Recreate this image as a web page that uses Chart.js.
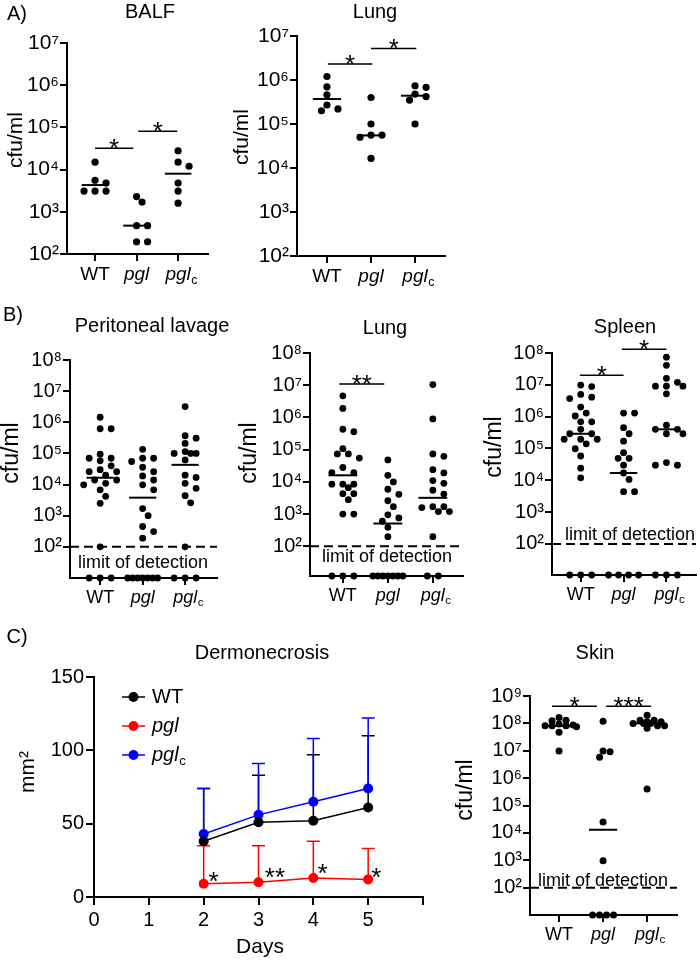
<!DOCTYPE html>
<html>
<head>
<meta charset="utf-8">
<script src="https://cdn.jsdelivr.net/npm/chart.js@4.4.1/dist/chart.umd.min.js"></script>
<style>
  body { margin: 0; background: #fff; }
  #fig { position: relative; width: 700px; height: 960px; }
  canvas { position: absolute; }
</style>
</head>
<body>
<div id="fig"></div>
<script>
const FONT = '"Liberation Sans", Arial, Helvetica, sans-serif';
const groupLabels = ['WT', 'pgl', 'pgl'];
const groupSub = ['', '', 'c'];

// A) BALF
const balfWT = [1.5e4, 5.6e3, 4.8e3, 3.1e3, 3.1e3, 3.1e3];
const balfPgl = [2.3e3, 1.7e3, 470, 470, 195, 195];
const balfPglc = [2.8e4, 1.5e4, 1.2e4, 4.8e3, 3.1e3, 1.6e3];
const balfMedian = [4.3e3, 470, 8e3];
const balfSig = [[0, 0.92, 3.2e4, '*'], [1.04, 1.98, 8.1e4, '*']];

// A) Lung
const lungAWT = [1.2e6, 7e5, 4.6e5, 2.7e5, 2.2e5, 2.0e5];
const lungAPgl = [4e5, 1e5, 5.6e4, 5.6e4, 5e4, 1.65e4];
const lungAPglc = [7.4e5, 6.8e5, 4.8e5, 4.2e5, 3.5e5, 1e5];
const lungAMedian = [3.7e5, 5.5e4, 4.4e5];
const lungASig = [[0.02, 1.03, 2.3e6, '*'], [1.0, 2.03, 5.2e6, '*']];

// B) Peritoneal lavage
const peritWT = [1.45e6, 6.2e5, 6.2e5, 9.4e4, 7e4, 7e4, 5.8e4, 4e4, 3e4, 2.6e4, 2.6e4, 2e4, 1.4e4, 1.4e4, 1.1e4, 9.8e3, 6.8e3, 4.2e3, 2.5e3, 100];
const peritPgl = [1.35e5, 7e4, 7e4, 5.5e4, 3.6e4, 2.6e4, 1.9e4, 1.4e4, 9.8e3, 6.8e3, 1.7e3, 1e3, 450, 310, 190];
const peritPglc = [3.2e6, 3.7e5, 3.1e5, 2.1e5, 1.15e5, 1e5, 1e5, 1e5, 6.2e4, 2e4, 1.7e4, 1.1e4, 7.6e3, 4.4e3, 2.6e3, 100];
const peritND = [3, 7, 3];
const peritMedian = [1.66e4, 3.8e3, 4.3e4];

// B) Lung
const lungBWT = [4.7e6, 1.9e6, 4.3e5, 3.6e5, 1.07e5, 7.4e4, 7.4e4, 5.5e4, 2.8e4, 1.95e4, 1.95e4, 8.5e3, 8.5e3, 8.5e3, 6.6e3, 4.3e3, 4.3e3, 2.8e3, 1e3, 1e3];
const lungBPgl = [4.8e4, 1.6e4, 1e4, 5.9e3, 4.1e3, 2.6e3, 1.7e3, 950, 760, 600, 390, 200];
const lungBPglc = [1.05e7, 9e5, 7.4e4, 6.2e4, 2.4e4, 1.9e4, 1.1e4, 9e3, 5.5e3, 4.2e3, 1.7e3, 1.6e3, 1.7e3, 1.2e3, 1.2e3, 200];
const lungBND = [3, 7, 2];
const lungBMedian = [1.6e4, 510, 3.2e3];
const lungBSig = [[-0.08, 0.92, 1.1e7, '**']];

// B) Spleen
const spleenWT = [9.8e6, 8.8e6, 5e6, 4.1e6, 3.7e6, 2e6, 1.3e6, 1.05e6, 6.9e5, 6.9e5, 4e5, 2.9e5, 2.9e5, 1.95e5, 1.95e5, 1.95e5, 1.4e5, 9.8e4, 5.8e4, 2.4e4, 1.2e4];
const spleenPgl = [1.3e6, 1.3e6, 4.5e5, 2.9e5, 1.7e5, 7.4e4, 4.9e4, 4.9e4, 3e4, 1.7e4, 1.07e4, 4.4e3, 4.4e3];
const spleenPglc = [7.4e7, 4.1e7, 1.6e7, 1.2e7, 9.1e6, 9.1e6, 9.1e6, 5.2e6, 5.4e5, 4e5, 4e5, 2.9e5, 2.9e5, 3.6e4, 3e4, 3e4];
const spleenND = [3, 4, 3];
const spleenMedian = [2.9e5, 1.7e4, 4e5];
const spleenSig = [[-0.02, 1.0, 2e7, '*'], [0.96, 2.0, 1.3e8, '*']];

// C) Skin
const skinWT = [1.65e8, 1.3e8, 1.25e8, 9.5e7, 8.7e7, 8.2e7, 8.2e7, 8.2e7, 7.5e7, 4.7e7, 9.8e6];
const skinPgl = [1.2e8, 9.8e6, 9.1e6, 5.8e6, 2.5e4, 950];
const skinPglc = [2e8, 1.3e8, 1.3e8, 1.15e8, 1.15e8, 1e8, 1e8, 1e8, 8.2e7, 8.2e7, 6.6e7, 4e5];
const skinND = [0, 4, 0];
const skinMedian = [8e7, 1.3e4, 1e8];
const skinSig = [[-0.16, 0.86, 4.2e8, '*'], [1.07, 2.09, 4.2e8, '***']];

// C) Dermonecrosis
const days = [2, 3, 4, 5];
const wtMean = [38, 51, 52, 61];
const wtSD = [36, 32, 45, 49];
const pglMean = [9, 10, 13, 12];
const pglSD = [26, 25, 25, 21];
const pglcMean = [43, 56, 65, 74];
const pglcSD = [31, 35, 43, 48];
const starDays = [2.18, 3.3, 4.17, 5.15];
const starLevels = [14, 17, 20, 17];
const starLabels = ['*', '**', '*', '*'];

const SUP = '⁰¹²³⁴⁵⁶⁷⁸⁹';
const YW = 60, XH = 35;
const fig = document.getElementById('fig');

Chart.defaults.font.family = FONT;
Chart.defaults.color = '#000';
Chart.defaults.animation = false;

function addCanvas(box) {
  const c = document.createElement('canvas');
  c.width = box[2]; c.height = box[3];
  c.style.left = box[0] + 'px'; c.style.top = box[1] + 'px';
  c.style.width = box[2] + 'px'; c.style.height = box[3] + 'px';
  fig.appendChild(c);
  return c;
}

function text(ctx, s, x, y, size, o = {}) {
  ctx.save();
  ctx.font = (o.italic ? 'italic ' : '') + size + 'px ' + FONT;
  ctx.fillStyle = '#000';
  ctx.textAlign = o.align || 'center';
  ctx.textBaseline = o.base || 'middle';
  ctx.translate(x, y);
  if (o.rot) ctx.rotate(-Math.PI / 2);
  ctx.fillText(s, 0, 0);
  ctx.restore();
}

function star(ctx, s, x, y) {
  // y = line the asterisks sit on
  text(ctx, s, x, y + 9, 26, {base: 'alphabetic'});
}

const extras = {
  id: 'extras',
  beforeDatasetsDraw(chart) {
    const p = chart.canvas.panel;
    if (!p) return;
    const ctx = chart.ctx, xs = chart.scales.x, ys = chart.scales.y, a = chart.chartArea;
    if (p.lod) {
      const y = ys.getPixelForValue(100);
      ctx.save();
      ctx.strokeStyle = '#000'; ctx.lineWidth = 2; ctx.setLineDash([9, 5]);
      ctx.beginPath(); ctx.moveTo(a.left, y); ctx.lineTo(a.right, y); ctx.stroke();
      ctx.restore();
    }
    if (p.errors) {
      chart.data.datasets.forEach(ds => {
        ctx.save();
        ctx.strokeStyle = ds.borderColor; ctx.lineWidth = 1.5;
        ds.data.forEach((pt, i) => {
          const x = xs.getPixelForValue(pt.x);
          const y1 = ys.getPixelForValue(pt.y), y2 = ys.getPixelForValue(pt.y + ds.sd[i]);
          ctx.beginPath();
          ctx.moveTo(x, y1); ctx.lineTo(x, y2);
          ctx.moveTo(x - 6.5, y2); ctx.lineTo(x + 6.5, y2);
          ctx.stroke();
        });
        ctx.restore();
      });
    }
  },
  afterDatasetsDraw(chart) {
    const p = chart.canvas.panel;
    if (!p) return;
    const ctx = chart.ctx, xs = chart.scales.x, ys = chart.scales.y;
    ctx.save();
    ctx.strokeStyle = '#000';
    if (p.medians) {
      ctx.lineWidth = 2;
      p.medians.forEach((m, g) => {
        const y = ys.getPixelForValue(m);
        ctx.beginPath();
        ctx.moveTo(xs.getPixelForValue(g - 0.32), y);
        ctx.lineTo(xs.getPixelForValue(g + 0.32), y);
        ctx.stroke();
      });
    }
    if (p.sig) {
      ctx.lineWidth = 1.5;
      p.sig.forEach(([x1, x2, v, lab]) => {
        const y = ys.getPixelForValue(v);
        const px1 = xs.getPixelForValue(x1), px2 = xs.getPixelForValue(x2);
        ctx.beginPath(); ctx.moveTo(px1, y); ctx.lineTo(px2, y); ctx.stroke();
        star(ctx, lab, (px1 + px2) / 2, y);
      });
    }
    if (p.stars) {
      p.stars.days.forEach((d, i) => {
        star(ctx, p.stars.labels[i], xs.getPixelForValue(d), ys.getPixelForValue(p.stars.levels[i]) + 5);
      });
    }
    ctx.restore();
  },
  afterDraw(chart) {
    const p = chart.canvas.panel;
    if (!p) return;
    const ctx = chart.ctx, xs = chart.scales.x, a = chart.chartArea;
    const ox = p.canvas[0], oy = p.canvas[1];
    p.texts.forEach(t => text(ctx, t[0], t[1] - ox, t[2] - oy, t[3], t[4] || {}));
    if (p.groups) {
      groupSub.forEach((s, i) => {
        if (!s) return;
        ctx.save();
        ctx.font = 'italic ' + p.fs + 'px ' + FONT;
        const w = ctx.measureText(groupLabels[i]).width;
        ctx.restore();
        const cy = xs.top + 7 + 2 + p.fs * 0.6;
        text(ctx, s, xs.getPixelForValue(i) + w / 2 + 0.5, cy + p.fs * 0.3, p.fs * 0.65, {align: 'left'});
      });
    }
    if (p.legend) {
      p.legend.forEach((e, i) => {
        const y = a.top + 20 + i * 29;
        const x0 = a.left + 28;
        ctx.save();
        ctx.strokeStyle = e.color; ctx.fillStyle = e.color; ctx.lineWidth = 1.5;
        ctx.beginPath(); ctx.moveTo(x0, y); ctx.lineTo(x0 + 23, y); ctx.stroke();
        ctx.beginPath(); ctx.arc(x0 + 11.5, y, 5, 0, Math.PI * 2); ctx.fill();
        ctx.restore();
        text(ctx, e.label, x0 + 30, y, 20, {align: 'left', italic: e.italic});
        if (e.sub) {
          ctx.save(); ctx.font = 'italic 20px ' + FONT;
          const w = ctx.measureText(e.label).width; ctx.restore();
          text(ctx, e.sub, x0 + 30 + w + 0.5, y + 6, 13, {align: 'left'});
        }
      });
    }
  }
};
Chart.register(extras);

function pad(p) {
  const [cx, cy, cw, ch] = p.canvas;
  const {l, t, r, b} = p.area;
  return {left: l - cx - YW, top: t - cy, right: cx + cw - r, bottom: cy + ch - b - XH};
}

function axisStyle(len) {
  return {
    grid: {drawOnChartArea: false, drawTicks: true, tickLength: len, color: '#000', lineWidth: 2},
    border: {color: '#000', width: 2}
  };
}

// simple beeswarm in pixel space, done after the scales are laid out
function swarm(chart, step, minD) {
  const xs = chart.scales.x, ys = chart.scales.y;
  const perCat = xs.getPixelForValue(1) - xs.getPixelForValue(0);
  const maxOff = 0.42 * perCat, h = step / 2;
  chart.data.datasets.forEach((ds, g) => {
    const pts = ds.data.filter(d => !d.nd)
      .map(d => ({d, py: ys.getPixelForValue(d.y)}))
      .sort((u, v) => u.py - v.py);
    const placed = [];
    pts.forEach(pt => {
      let best = 0, bestD = -1;
      for (let k = 0; ; k++) {
        const off = (k % 2 ? 1 : -1) * Math.ceil(k / 2) * h;
        if (Math.abs(off) > maxOff) break;
        const d = placed.reduce((m, q) => Math.min(m, Math.hypot(q.px - off, q.py - pt.py)), Infinity);
        if (d >= minD) { best = off; bestD = d; break; }
        if (d > bestD) { bestD = d; best = off; }
      }
      pt.px = best;
      placed.push(pt);
      pt.d.x = g + best / perCat;
    });
    const nd = ds.data.filter(d => d.nd);
    const sp = nd.length > 1 ? Math.min(step, 30 / (nd.length - 1)) : 0;
    nd.forEach((d, i) => { d.x = g + (i - (nd.length - 1) / 2) * sp / perCat; });
  });
}

function dotPanel(p) {
  const cv = addCanvas(p.canvas);
  p.groups = true;
  cv.panel = p;
  const nd = p.nd || [0, 0, 0];
  const datasets = p.values.map((vals, g) => ({
    data: vals.map(v => ({x: g, y: v}))
      .concat(Array.from({length: nd[g]}, () => ({x: g, y: p.yMin, nd: true}))),
    pointRadius: p.r,
    pointBackgroundColor: '#000',
    pointBorderWidth: 0,
    clip: false
  }));
  const decades = [];
  for (let e = p.dec[0]; e <= p.dec[1]; e++) decades.push(e);
  const chart = new Chart(cv, {
    type: 'scatter',
    data: {datasets},
    options: {
      responsive: false,
      animation: false,
      events: [],
      layout: {padding: pad(p)},
      plugins: {legend: {display: false}, tooltip: {enabled: false}},
      scales: {
        x: {
          type: 'linear', min: p.x[0], max: p.x[1],
          afterFit: s => { s.height = XH; },
          afterBuildTicks: s => { s.ticks = groupLabels.map((_, i) => ({value: i})); },
          ticks: {
            callback: v => groupLabels[v],
            font: c => ({size: p.fs, style: c.index > 0 ? 'italic' : 'normal'}),
            padding: 2, autoSkip: false, maxRotation: 0, color: '#000'
          },
          ...axisStyle(7)
        },
        y: {
          type: 'logarithmic', min: p.yMin, max: p.yMax,
          afterFit: s => { s.width = YW; },
          afterBuildTicks: s => { s.ticks = decades.map(e => ({value: Math.pow(10, e)})); },
          ticks: {
            callback: v => '10' + SUP[Math.round(Math.log10(v))],
            font: {size: p.yfs}, padding: 1, autoSkip: false, color: '#000'
          },
          ...axisStyle(7)
        }
      }
    }
  });
  swarm(chart, p.step, p.minD);
  chart.update('none');
}

const LOD = 'limit of detection';

dotPanel({
  canvas: [0, 0, 230, 290], area: {l: 67, t: 43, r: 208, b: 254},
  x: [-0.675, 2.72], yMin: 1e2, yMax: 1e7, dec: [2, 7], fs: 19, yfs: 21, r: 3.6, step: 11, minD: 7.5,
  values: [balfWT, balfPgl, balfPglc], medians: balfMedian, sig: balfSig,
  texts: [['A)', 17, 14, 20], ['BALF', 150, 12, 20], ['cfu/ml', 16, 140, 21, {rot: true}]]
});

dotPanel({
  canvas: [232, 0, 240, 295], area: {l: 297, t: 36, r: 445, b: 256},
  x: [-0.68, 2.68], yMin: 1e2, yMax: 1e7, dec: [2, 7], fs: 19, yfs: 21, r: 3.6, step: 11, minD: 7.5,
  values: [lungAWT, lungAPgl, lungAPglc], medians: lungAMedian, sig: lungASig,
  texts: [['Lung', 375, 12, 20], ['cfu/ml', 242, 137, 21, {rot: true}]]
});

dotPanel({
  canvas: [0, 300, 230, 315], area: {l: 70, t: 360, r: 217, b: 578},
  x: [-0.71, 2.75], yMin: 10, yMax: 1e8, dec: [2, 8], fs: 18, yfs: 20, r: 3.4, step: 11, minD: 7.5,
  values: [peritWT, peritPgl, peritPglc], nd: peritND, medians: peritMedian, lod: true,
  texts: [['B)', 13, 315, 20], ['Peritoneal lavage', 152, 326, 20], ['cfu/ml', 12, 453, 23, {rot: true}], [LOD, 143, 563, 18]]
});

dotPanel({
  canvas: [232, 300, 235, 315], area: {l: 310, t: 353, r: 463, b: 576},
  x: [-0.73, 2.67], yMin: 12, yMax: 1e8, dec: [2, 8], fs: 18, yfs: 20, r: 3.4, step: 11, minD: 7.5,
  values: [lungBWT, lungBPgl, lungBPglc], nd: lungBND, medians: lungBMedian, sig: lungBSig, lod: true,
  texts: [['Lung', 385, 328, 20], ['cfu/ml', 250, 453, 23, {rot: true}], [LOD, 387, 557, 18]]
});

dotPanel({
  canvas: [470, 300, 230, 315], area: {l: 552, t: 353, r: 698, b: 575},
  x: [-0.67, 2.69], yMin: 10.6, yMax: 1e8, dec: [2, 8], fs: 18, yfs: 20, r: 3.4, step: 11, minD: 7.5,
  values: [spleenWT, spleenPgl, spleenPglc], nd: spleenND, medians: spleenMedian, sig: spleenSig, lod: true,
  texts: [['Spleen', 625, 327, 20], ['cfu/ml', 495, 447, 23, {rot: true}], [LOD, 630, 535, 18]]
});

dotPanel({
  canvas: [455, 620, 245, 340], area: {l: 530, t: 696, r: 677, b: 915},
  x: [-0.66, 2.68], yMin: 10, yMax: 1e9, dec: [2, 9], fs: 18, yfs: 20, r: 3.5, step: 7, minD: 6.5,
  values: [skinWT, skinPgl, skinPglc], nd: skinND, medians: skinMedian, sig: skinSig, lod: true,
  texts: [['Skin', 595, 653, 20], ['cfu/ml', 466, 790, 23, {rot: true}], [LOD, 603, 881, 18]]
});

// Dermonecrosis line chart
(function () {
  const p = {
    canvas: [0, 620, 450, 340], area: {l: 94, t: 677, r: 423, b: 897}, errors: true,
    stars: {days: starDays, levels: starLevels, labels: starLabels},
    legend: [
      {label: 'WT', color: '#000'},
      {label: 'pgl', color: '#ff0000', italic: true},
      {label: 'pgl', color: '#0000ff', italic: true, sub: 'c'}
    ],
    texts: [['C)', 17, 637, 20], ['Dermonecrosis', 262, 653, 20], ['Days', 260, 947, 21], ['mm²', 28, 772, 21, {rot: true}]]
  };
  const cv = addCanvas(p.canvas);
  cv.panel = p;
  const series = (mean, sd, color) => ({
    data: days.map((d, i) => ({x: d, y: mean[i]})),
    sd,
    borderColor: color, backgroundColor: color,
    pointBackgroundColor: color, pointBorderWidth: 0,
    pointRadius: 5, borderWidth: 1.5, clip: false
  });
  new Chart(cv, {
    type: 'line',
    data: {datasets: [series(pglMean, pglSD, '#ff0000'), series(wtMean, wtSD, '#000'), series(pglcMean, pglcSD, '#0000ff')]},
    options: {
      responsive: false,
      animation: false,
      events: [],
      layout: {padding: pad(p)},
      plugins: {legend: {display: false}, tooltip: {enabled: false}},
      scales: {
        x: {
          type: 'linear', min: 0, max: 6,
          afterFit: s => { s.height = XH; },
          ticks: {stepSize: 1, callback: v => (v === 6 ? '' : v), font: {size: 20}, padding: 3, color: '#000', maxRotation: 0},
          ...axisStyle(8)
        },
        y: {
          type: 'linear', min: 0, max: 150,
          afterFit: s => { s.width = YW; },
          ticks: {stepSize: 50, font: {size: 20}, padding: 2, color: '#000'},
          ...axisStyle(8)
        }
      }
    }
  });
})();
</script>
</body>
</html>
